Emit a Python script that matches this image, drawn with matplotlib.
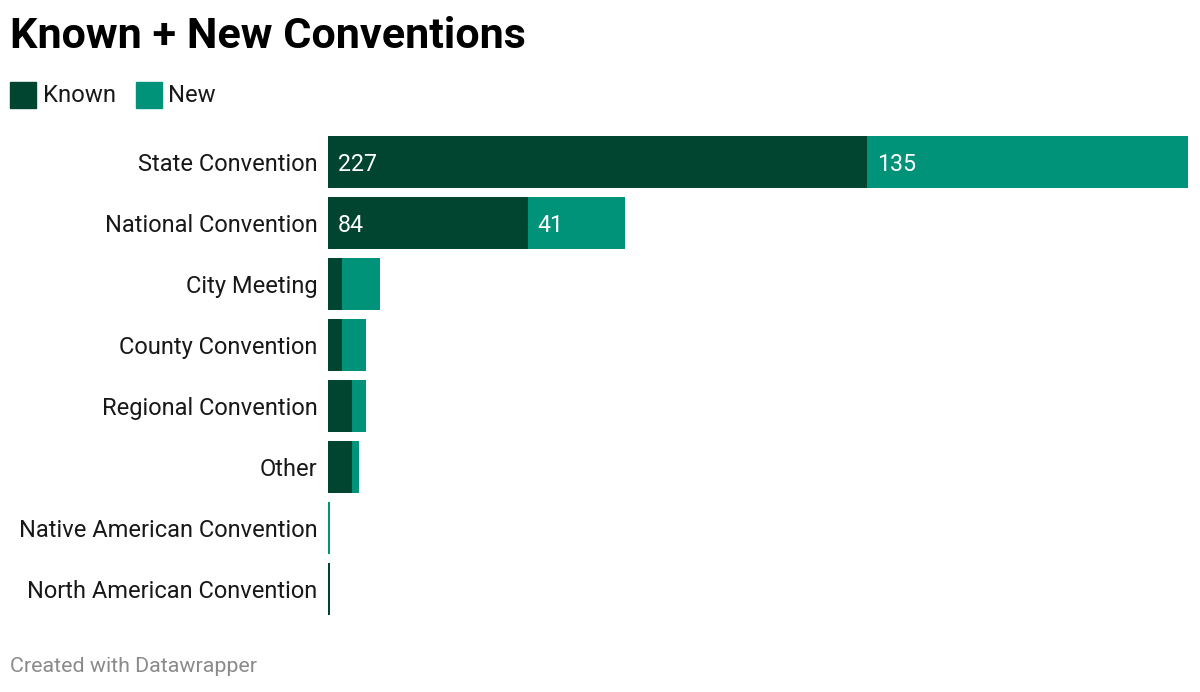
import matplotlib.pyplot as plt
from matplotlib.patches import Rectangle

# data
categories = ['State Convention', 'National Convention', 'City Meeting', 'County Convention',
              'Regional Convention', 'Other', 'Native American Convention', 'North American Convention']
known = [227, 84, 6, 6, 10, 10, 0, 1]
new = [135, 41, 16, 10, 6, 3, 1, 0]

dark = '#01442f'
teal = '#01937a'
W, H = 1200, 692

plt.rcParams['font.family'] = ['Roboto', 'DejaVu Sans']

fig = plt.figure(figsize=(W / 100, H / 100), dpi=100)
fig.patch.set_facecolor('white')

# axes box in pixel coords
left, right, top, bottom = 328, 1188, 136, 615
ax = fig.add_axes([left / W, 1 - bottom / H, (right - left) / W, (bottom - top) / H])

ypos = list(range(len(categories)))
h = 0.85
ax.barh(ypos, known, height=h, color=dark)
ax.barh(ypos, new, left=known, height=h, color=teal)

totals = [k + n for k, n in zip(known, new)]
ax.set_xlim(0, max(totals))
ax.set_ylim(len(categories) - 1 + h / 2, -h / 2)

# value labels only where the segment is wide enough
for i, (k, n) in enumerate(zip(known, new)):
    if k > 20:
        ax.text(4.2, i, str(k), color='white', fontsize=16.7, va='center_baseline', ha='left')
    if n > 20:
        ax.text(k + 4.2, i, str(n), color='white', fontsize=16.7, va='center_baseline', ha='left')

ax.set_yticks(ypos)
ax.set_yticklabels(categories, fontsize=17, color='#181818', va='center_baseline')
ax.tick_params(axis='y', length=0, pad=7.5)
ax.set_xticks([])
for s in ax.spines.values():
    s.set_visible(False)

# title
fig.text(10 / W, 1 - 36 / H, 'Known + New Conventions', fontsize=31.1, fontweight='bold',
         va='center', ha='left', color='#000000')

# legend
fig.patches.append(Rectangle((10 / W, 1 - 108 / H), 26 / W, 26 / H, transform=fig.transFigure,
                             color=dark))
fig.text(43 / W, 1 - 95 / H, 'Known', fontsize=17.2, va='center', ha='left', color='#181818')
fig.patches.append(Rectangle((136 / W, 1 - 108 / H), 26 / W, 26 / H, transform=fig.transFigure,
                             color=teal))
fig.text(168 / W, 1 - 95 / H, 'New', fontsize=17.2, va='center', ha='left', color='#181818')

# footer
fig.text(10 / W, 1 - 666 / H, 'Created with Datawrapper', fontsize=15.4, va='center', ha='left',
         color='#8a8a8a')

fig.savefig('out.png', dpi=100)
